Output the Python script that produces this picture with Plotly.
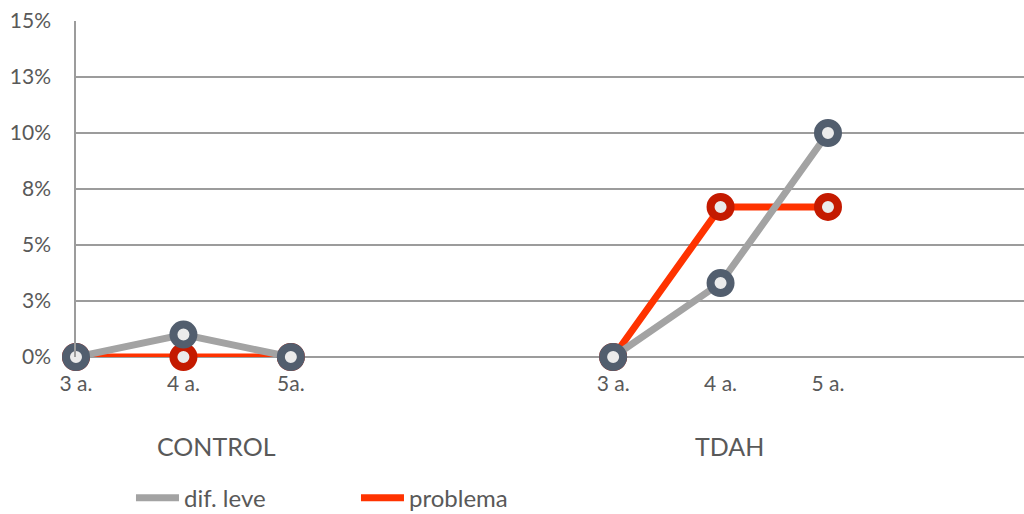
import plotly.graph_objects as go

# Age groups per study group, placed on a shared numeric axis with a gap between groups
group_names = ["CONTROL", "TDAH"]
age_labels = ["3 a.", "4 a.", "5a.", "3 a.", "4 a.", "5 a."]
age_slots = [0, 1, 2, 5, 6, 7]

# Percentages per age (CONTROL then TDAH)
dif_leve = [0.0, 1.0, 0.0, 0.0, 3.3, 10.0]
problema = [0.0, 0.0, 0.0, 0.0, 6.7, 6.7]

y_tick_vals = [0, 2.5, 5, 7.5, 10, 12.5, 15]
y_tick_text = ["0%", "3%", "5%", "8%", "10%", "13%", "15%"]

FONT = "Lato, 'Open Sans', sans-serif"
TEXT = "#595959"
GREY_LINE = "#a3a3a3"
RED_LINE = "#ff3300"
GREY_RING = "#525e6e"
RED_RING = "#c41a00"
DOT_FILL = "#ebebeb"


def split_groups(xs, ys):
    """Insert a gap so each group is drawn as its own polyline."""
    out_x, out_y = [], []
    for i, (x, y) in enumerate(zip(xs, ys)):
        if i == 3:
            out_x.append(None)
            out_y.append(None)
        out_x.append(x)
        out_y.append(y)
    return out_x, out_y


fig = go.Figure()

for name, values, line_c, ring_c in [
    ("problema", problema, RED_LINE, RED_RING),
    ("dif. leve", dif_leve, GREY_LINE, GREY_RING),
]:
    xs, ys = split_groups(age_slots, values)
    fig.add_trace(go.Scatter(
        x=xs, y=ys, mode="lines+markers", name=name, showlegend=False,
        connectgaps=False, cliponaxis=False,
        line=dict(color=line_c, width=7),
        marker=dict(symbol="circle", size=20, color=DOT_FILL,
                    line=dict(color=ring_c, width=8)),
    ))

# Legend entries (line only)
for name, line_c in [("dif. leve", GREY_LINE), ("problema", RED_LINE)]:
    fig.add_trace(go.Scatter(
        x=[None], y=[None], mode="lines", name=name,
        line=dict(color=line_c, width=7),
    ))

for label, pos in zip(group_names, [1.31, 6.08]):
    fig.add_annotation(text=label, x=pos, y=-0.265, xref="x", yref="paper",
                       yanchor="middle", showarrow=False,
                       font=dict(family=FONT, size=25, color=TEXT))

fig.update_layout(
    width=1024, height=514,
    margin=dict(l=76, r=0, t=21, b=157, autoexpand=False),
    plot_bgcolor="white", paper_bgcolor="white",
    font=dict(family=FONT, size=21, color=TEXT),
    xaxis=dict(
        range=[0, 946 / 107.2],
        tickmode="array", tickvals=age_slots, ticktext=age_labels,
        showgrid=False, zeroline=False, showline=False,
        ticks="", ticklabelstandoff=12,
        tickfont=dict(family=FONT, size=21, color=TEXT),
    ),
    yaxis=dict(
        range=[0, 15],
        tickmode="array", tickvals=y_tick_vals, ticktext=y_tick_text,
        showgrid=True, gridcolor="#9c9c9c", gridwidth=1.5,
        zeroline=True, zerolinecolor="#9c9c9c", zerolinewidth=1.5,
        showline=True, linecolor="#9c9c9c", linewidth=1.5,
        ticks="", ticklabelstandoff=19,
        tickfont=dict(family=FONT, size=21, color=TEXT),
    ),
    legend=dict(
        orientation="h", x=0.058, xanchor="left", y=-0.42, yanchor="middle",
        font=dict(family=FONT, size=24, color=TEXT),
        itemwidth=43,
        entrywidth=167, entrywidthmode="pixels",
        bgcolor="rgba(0,0,0,0)",
    ),
)

fig.write_html("out.html")
